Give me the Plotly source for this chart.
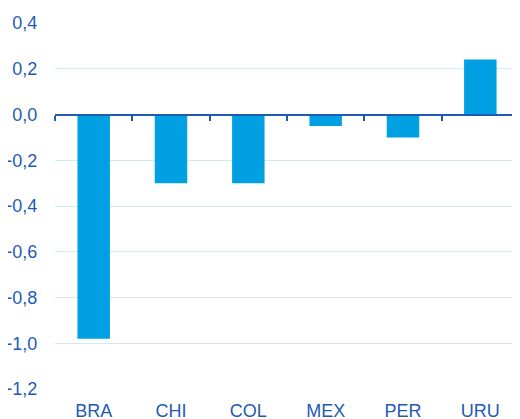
import plotly.graph_objects as go

categories = ["BRA", "CHI", "COL", "MEX", "PER", "URU"]
values = [-0.98, -0.30, -0.30, -0.05, -0.10, 0.24]
y_ticks = [0.4, 0.2, 0.0, -0.2, -0.4, -0.6, -0.8, -1.0, -1.2]

label_color = "#1F5BB4"
bar_color = "#00A0E3"
grid_color = "#CFEAF7"

fig = go.Figure()
fig.add_trace(go.Bar(x=list(range(len(categories))), y=values, marker_color=bar_color,
                     marker_line_width=0, width=0.42))

n = len(categories)
# page body has an 8px default margin, so the figure is sized 8px smaller
fig.update_layout(
    width=512, height=411,
    margin=dict(l=47, r=1, t=15, b=30, autoexpand=False),
    plot_bgcolor="white", paper_bgcolor="white",
    separators=",.",
    showlegend=False,
    font=dict(family="Liberation Sans, Arial, sans-serif", size=18, color=label_color),
    xaxis=dict(
        range=[-0.5, n - 0.5],
        tickvals=list(range(n)), ticktext=categories,
        showgrid=False, zeroline=False, showline=False, automargin=False,
        ticks="outside", ticklen=0, ticklabelstandoff=5,
        tickfont=dict(size=18, color=label_color),
    ),
    xaxis2=dict(
        overlaying="x", anchor="free", position=0.75, side="bottom",
        range=[-0.5, n - 0.5], automargin=False,
        tickvals=[i - 0.5 for i in range(n + 1)],
        showticklabels=False, showgrid=False, zeroline=False,
        showline=True, linecolor=label_color, linewidth=2,
        ticks="outside", ticklen=5, tickwidth=2, tickcolor=label_color,
    ),
    yaxis=dict(
        range=[-1.2, 0.4], tickvals=y_ticks, tickformat=".1f",
        showgrid=True, gridcolor=grid_color, gridwidth=1,
        zeroline=False, showline=False, automargin=False,
        ticks="outside", ticklen=0, ticklabelstandoff=13,
        tickfont=dict(size=18, color=label_color),
    ),
)
# invisible trace to activate xaxis2
fig.add_trace(go.Scatter(x=[-0.5, n - 0.5], y=[0, 0], xaxis="x2", mode="lines",
                         line=dict(width=0), hoverinfo="skip"))
fig.write_html("out.html")
